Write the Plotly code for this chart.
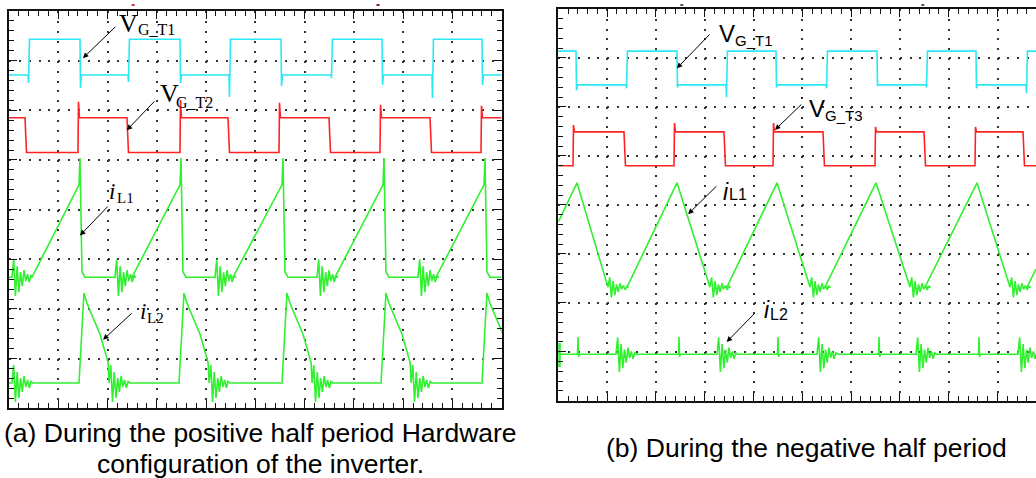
import plotly.graph_objects as go

W, H = 1036, 478

# ---------------- (a) positive half period, values in screen divisions ----------------
A_T1_HIGH, A_T1_LOW = 7.43, 6.71
A_T1_RISE = [0.386, 2.415, 4.465, 6.535, 8.585]
A_T1_RISE_DIP = [6.55, 6.57, 6.27, 6.65, 6.25]
A_T1_FALL = [1.441, 3.471, 5.521, 7.571, 9.600]
A_T1_FALL_DIP = [6.45, 6.55, 6.49, 6.51, 6.51]

A_T2_HIGH, A_T2_LOW = 5.85, 5.15
A_T2_RISE = [1.400, 3.470, 5.480, 7.530, 9.580]
A_T2_RISE_PEAK = [6.17, 6.21, 6.15, 6.11, 6.09]
A_T2_FALL = [0.325, 2.395, 4.445, 6.495, 8.545]

A_L1_LOW, A_L1_TOP, A_L1_SPIKE, A_L1_DROP = 2.64, 4.50, 5.04, 2.75
A_L1_RING = [0.06, 2.151, 4.181, 6.251, 8.301]
A_L1_RAMP = [0.467, 2.497, 4.546, 6.617, 8.667]
A_L1_PEAK = [1.441, 3.491, 5.561, 7.611, 9.661]

A_L2_LOW = 0.51
A_L2_RISE = [1.421, 3.451, 5.541, 7.551, 9.600]
A_L2_DECAY_DT = [0.10, 0.16, 0.43, 0.59]
A_L2_DECAY_Y = [2.32, 2.12, 1.48, 0.92]

# ---------------- (b) negative half period ----------------
B_X_END = 9.789

B_T1_HIGH, B_T1_LOW = 7.14, 6.45
B_T1_FALL = [0.363, 2.432, 4.461, 6.531, 8.559]
B_T1_FALL_DIP = [6.34, 6.40, 6.40, 6.44, 6.38]
B_T1_RISE = [1.387, 3.436, 5.486, 7.535, 9.584]
B_T1_RISE_DIP = [6.38, 6.20, 6.38, 6.40, 6.28]

B_T3_HIGH, B_T3_LOW = 5.49, 4.80
B_T3_RISE = [0.301, 2.371, 4.400, 6.490, 8.539]
B_T3_RISE_PEAK = [5.63, 5.67, 5.67, 5.59, 5.59]
B_T3_FALL = [1.346, 3.395, 5.424, 7.494, 9.523]

B_L1_START, B_L1_END = 3.65, 2.69
B_L1_TOP, B_L1_LOW = 4.45, 2.32
B_L1_PEAK = [0.383, 2.432, 4.482, 6.510, 8.580]
B_L1_VALLEY = [1.018, 3.107, 5.158, 7.207, 9.256]
B_L1_RAMP = [1.408, 3.455, 5.465, 7.514, 9.604]

B_L2_BASE, B_L2_SPIKE = 0.95, 1.30
B_L2_SPIKES = [0.404, 2.473, 4.502, 6.572, 8.621]
B_L2_RINGS = [1.182, 3.252, 5.301, 7.330, 9.420]
B_L2_MARKER = [0.69, 1.18]

# switching ringing seen on the current probes (offsets in divisions)
RING_DY = [0.0, 0.36, -0.38, 0.22, -0.30, 0.10, -0.18, 0.14, -0.08, 0.06, -0.10, 0.03, 0.0]
RING_STEP = 0.035

CYAN, RED, GREEN = "#2ae9f5", "#ff2424", "#30f030"


def ring(x0, base, scale=1.0):
    xs = [x0 + i * RING_STEP for i in range(len(RING_DY))]
    ys = [base + scale * d for d in RING_DY]
    return xs, ys


def square(x_end, level0, edges):
    """edges: (time, new_level, spike_or_None)"""
    xs, ys = [0.0], [level0]
    level = level0
    for t, new, spike in sorted(edges):
        xs.append(t); ys.append(level)
        if spike is not None:
            xs.append(t + 0.01); ys.append(spike)
        xs.append(t + 0.03); ys.append(new)
        level = new
    xs.append(x_end); ys.append(level)
    return xs, ys


# ---- build (a) traces ----
a_t1 = square(10, A_T1_LOW,
              [(t, A_T1_HIGH, d) for t, d in zip(A_T1_RISE, A_T1_RISE_DIP)] +
              [(t, A_T1_LOW, d) for t, d in zip(A_T1_FALL, A_T1_FALL_DIP)])
a_t2 = square(10, A_T2_HIGH,
              [(t, A_T2_HIGH, p) for t, p in zip(A_T2_RISE, A_T2_RISE_PEAK)] +
              [(t, A_T2_LOW, None) for t in A_T2_FALL])

a_l1x, a_l1y = [0.0], [A_L1_LOW]
for rg, rp, pk in zip(A_L1_RING, A_L1_RAMP, A_L1_PEAK):
    rx, ry = ring(rg, A_L1_LOW)
    a_l1x += rx; a_l1y += ry
    a_l1x += [rp, pk - 0.02, pk, pk + 0.04, pk + 0.10]
    a_l1y += [A_L1_LOW, A_L1_TOP, A_L1_SPIKE, A_L1_DROP, A_L1_LOW]
a_l1x.append(10); a_l1y.append(A_L1_LOW)

a_l2x, a_l2y = [0.0], [A_L2_LOW]
rx, ry = ring(0.06, A_L2_LOW)
a_l2x += rx; a_l2y += ry
for q in A_L2_RISE:
    a_l2x.append(q); a_l2y.append(A_L2_LOW)
    a_l2x += [q + d for d in A_L2_DECAY_DT]; a_l2y += A_L2_DECAY_Y
    rx, ry = ring(q + A_L2_DECAY_DT[-1] + 0.02, A_L2_LOW)
    a_l2x += rx; a_l2y += ry
a_l2x.append(10.5); a_l2y.append(A_L2_LOW)

# ---- build (b) traces ----
b_t1 = square(B_X_END, B_T1_HIGH,
              [(t, B_T1_LOW, d) for t, d in zip(B_T1_FALL, B_T1_FALL_DIP)] +
              [(t, B_T1_HIGH, d) for t, d in zip(B_T1_RISE, B_T1_RISE_DIP)])
b_t3 = square(B_X_END, B_T3_LOW,
              [(t, B_T3_HIGH, p) for t, p in zip(B_T3_RISE, B_T3_RISE_PEAK)] +
              [(t, B_T3_LOW, None) for t in B_T3_FALL])

b_l1x, b_l1y = [0.0], [B_L1_START]
for pk, vd, vr in zip(B_L1_PEAK, B_L1_VALLEY, B_L1_RAMP):
    b_l1x.append(pk); b_l1y.append(B_L1_TOP)
    rx, ry = ring(vd, B_L1_LOW, 0.55)
    b_l1x += rx; b_l1y += ry
    b_l1x.append(vr); b_l1y.append(B_L1_LOW)
b_l1x.append(B_X_END); b_l1y.append(B_L1_END)

b_l2x, b_l2y = [0.0], [B_L2_BASE]
events = sorted([(s, "spike") for s in B_L2_SPIKES] + [(r, "ring") for r in B_L2_RINGS])
for t, kind in events:
    if kind == "spike":
        b_l2x += [t - 0.01, t, t + 0.012, t + 0.03]
        b_l2y += [B_L2_BASE, B_L2_SPIKE, B_L2_BASE - 0.05, B_L2_BASE]
    else:
        rx, ry = ring(t, B_L2_BASE, 0.95)
        b_l2x += rx; b_l2y += ry
b_l2x.append(B_X_END); b_l2y.append(B_L2_BASE)

fig = go.Figure()


def line(x, y, color, xa, ya, width=1.6):
    fig.add_trace(go.Scatter(x=x, y=y, mode="lines", xaxis=xa, yaxis=ya,
                             line=dict(color=color, width=width), hoverinfo="skip",
                             showlegend=False))


line(*a_t1, CYAN, "x", "y")
line(*a_t2, RED, "x", "y")
line(a_l1x, a_l1y, GREEN, "x", "y")
line(a_l2x, a_l2y, GREEN, "x", "y")
line(*b_t1, CYAN, "x2", "y2")
line(*b_t3, RED, "x2", "y2")
line(b_l1x, b_l1y, GREEN, "x2", "y2")
line(b_l2x, b_l2y, GREEN, "x2", "y2")
line([0, 0], B_L2_MARKER, GREEN, "x2", "y2", width=5)


def scope_axis(domain, rng, dot_gap, mirror):
    return dict(domain=domain, range=rng, showticklabels=False, zeroline=False,
                showline=True, linecolor="#111", linewidth=2, mirror=mirror,
                ticks="inside", tick0=0, dtick=1, ticklen=8, tickwidth=1, tickcolor="#111",
                minor=dict(dtick=0.2, tick0=0, ticks="inside", ticklen=5, tickwidth=1,
                           tickcolor="#111", showgrid=False),
                showgrid=True, gridcolor="#333", gridwidth=2,
                griddash="2px,%.2fpx" % dot_gap, fixedrange=True)


fig.update_layout(
    width=W, height=H, margin=dict(l=0, r=0, t=0, b=0),
    paper_bgcolor="white", plot_bgcolor="white",
    xaxis=scope_axis([9 / W, 501.7 / W], [0, 10], 7.93, "ticks"),
    yaxis=scope_axis([1 - 408.3 / H, 1 - 11 / H], [0, 8], 7.85, "ticks"),
    xaxis2=scope_axis([558.3 / W, 1], [0, B_X_END], 7.79, "ticks"),
    yaxis2=scope_axis([1 - 400.7 / H, 1 - 9 / H], [0, 8], 7.76, False),
)
fig.layout.xaxis2.anchor = "y2"
fig.layout.yaxis2.anchor = "x2"

SERIF = "Liberation Serif, Times New Roman, serif"
SANS = "Liberation Sans, Arial, sans-serif"

ann = []


def label(xa, ya, x, y, text, size, family):
    ann.append(dict(xref=xa, yref=ya, x=x, y=y, text=text, showarrow=False,
                    xanchor="left", yanchor="middle",
                    font=dict(family=family, size=size, color="black")))


def arrow(xa, ya, tail, head):
    ann.append(dict(xref=xa, yref=ya, axref=xa, ayref=ya, x=head[0], y=head[1],
                    ax=tail[0], ay=tail[1], text="", showarrow=True,
                    arrowhead=2, arrowsize=1.1, arrowwidth=1, arrowcolor="black"))


# (a) labels
label("x", "y", 2.20, 7.75, "V", 26, SERIF)
label("x", "y", 2.57, 7.63, "G_T1", 16, SERIF)
arrow("x", "y", (2.19, 7.71), (1.50, 7.05))
label("x", "y", 3.03, 6.33, "V", 26, SERIF)
label("x", "y", 3.34, 6.16, "G_T2", 16, SERIF)
arrow("x", "y", (2.98, 6.21), (2.39, 5.60))
label("x", "y", 1.99, 4.36, "<i>i</i>", 23, SERIF)
label("x", "y", 2.15, 4.24, "L1", 15, SERIF)
arrow("x", "y", (2.03, 4.09), (1.44, 3.48))
label("x", "y", 2.62, 1.94, "<i>i</i>", 23, SERIF)
label("x", "y", 2.76, 1.82, "L2", 15, SERIF)
arrow("x", "y", (2.52, 1.94), (1.91, 1.38))

# (b) labels
label("x2", "y2", 3.25, 7.50, "V", 24, SANS)
label("x2", "y2", 3.58, 7.35, "G_T1", 15, SANS)
arrow("x2", "y2", (3.13, 7.51), (2.43, 6.79))
label("x2", "y2", 5.10, 5.96, "V", 24, SANS)
label("x2", "y2", 5.42, 5.82, "G_T3", 15, SANS)
arrow("x2", "y2", (5.01, 6.08), (4.44, 5.53))
label("x2", "y2", 3.33, 4.26, "<i>i</i>", 23, SANS)
label("x2", "y2", 3.46, 4.21, "L1", 16, SANS)
arrow("x2", "y2", (3.27, 4.41), (2.66, 3.81))
label("x2", "y2", 4.17, 1.85, "<i>i</i>", 23, SANS)
label("x2", "y2", 4.30, 1.76, "L2", 16, SANS)
arrow("x2", "y2", (4.05, 1.81), (3.45, 1.20))

# captions
for x, y, txt in [(260, 433, "(a) During the positive half period Hardware"),
                  (260, 464, "configuration of the inverter."),
                  (806, 448, "(b) During the negative half period")]:
    ann.append(dict(xref="paper", yref="paper", x=x / W, y=1 - y / H, text=txt,
                    showarrow=False, xanchor="center", yanchor="middle",
                    font=dict(family=SANS, size=26.5, color="black")))

fig.update_layout(annotations=ann)

# trigger markers above the graticule
TRIG = [("x", 2.52, "#e03030"), ("x", 7.49, "#802020"), ("x2", 2.53, "#555"), ("x2", 7.47, "#555")]
for xa, xv, col in TRIG:
    fig.add_shape(type="line", xref=xa, yref="paper", x0=xv - 0.03, x1=xv + 0.03,
                  y0=1 - 5 / H, y1=1 - 5 / H, line=dict(color=col, width=2))

fig.write_html("out.html")
